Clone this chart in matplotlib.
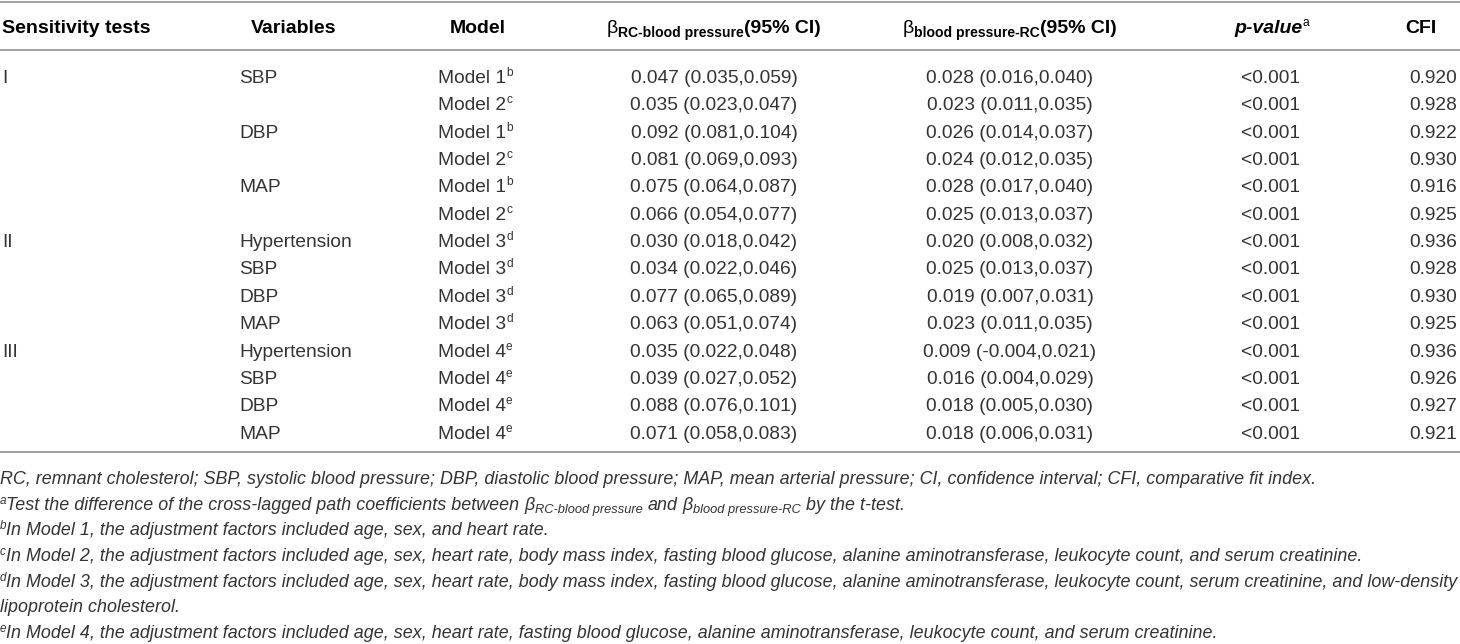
import matplotlib
matplotlib.use("Agg")
import matplotlib.pyplot as plt

# ---------------- data ----------------
tests = ["I", "", "", "", "", "", "II", "", "", "", "III", "", "", ""]
variables = ["SBP", "", "DBP", "", "MAP", "", "Hypertension", "SBP", "DBP", "MAP",
             "Hypertension", "SBP", "DBP", "MAP"]
models = ["Model 1", "Model 2", "Model 1", "Model 2", "Model 1", "Model 2",
          "Model 3", "Model 3", "Model 3", "Model 3",
          "Model 4", "Model 4", "Model 4", "Model 4"]
model_sup = ["b", "c", "b", "c", "b", "c", "d", "d", "d", "d", "e", "e", "e", "e"]
rc_est = [0.047, 0.035, 0.092, 0.081, 0.075, 0.066, 0.030, 0.034, 0.077, 0.063, 0.035, 0.039, 0.088, 0.071]
rc_lo = [0.035, 0.023, 0.081, 0.069, 0.064, 0.054, 0.018, 0.022, 0.065, 0.051, 0.022, 0.027, 0.076, 0.058]
rc_hi = [0.059, 0.047, 0.104, 0.093, 0.087, 0.077, 0.042, 0.046, 0.089, 0.074, 0.048, 0.052, 0.101, 0.083]
bp_est = [0.028, 0.023, 0.026, 0.024, 0.028, 0.025, 0.020, 0.025, 0.019, 0.023, 0.009, 0.016, 0.018, 0.018]
bp_lo = [0.016, 0.011, 0.014, 0.012, 0.017, 0.013, 0.008, 0.013, 0.007, 0.011, -0.004, 0.004, 0.005, 0.006]
bp_hi = [0.040, 0.035, 0.037, 0.035, 0.040, 0.037, 0.032, 0.037, 0.031, 0.035, 0.021, 0.029, 0.030, 0.031]
p_values = ["<0.001"] * 14
cfi = [0.920, 0.928, 0.922, 0.930, 0.916, 0.925, 0.936, 0.928, 0.930, 0.925, 0.936, 0.926, 0.927, 0.921]

footnotes = [
    ("", "RC, remnant cholesterol; SBP, systolic blood pressure; DBP, diastolic blood pressure; MAP, mean arterial pressure; CI, confidence interval; CFI, comparative fit index."),
    ("a", None),
    ("b", "In Model 1, the adjustment factors included age, sex, and heart rate."),
    ("c", "In Model 2, the adjustment factors included age, sex, heart rate, body mass index, fasting blood glucose, alanine aminotransferase, leukocyte count, and serum creatinine."),
    ("d", "In Model 3, the adjustment factors included age, sex, heart rate, body mass index, fasting blood glucose, alanine aminotransferase, leukocyte count, serum creatinine, and low-density"),
    ("", "lipoprotein cholesterol."),
    ("e", "In Model 4, the adjustment factors included age, sex, heart rate, fasting blood glucose, alanine aminotransferase, leukocyte count, and serum creatinine."),
]

# ---------------- style ----------------
FAMILY = ["Liberation Sans", "DejaVu Sans"]
BODY_FS = 13.8
HEAD_FS = 14.0
NOTE_FS = 12.9
TXT = "#333333"
LINE = "#a0a0a0"

W, H = 1460, 644
fig = plt.figure(figsize=(W / 100, H / 100), dpi=100)
ax = fig.add_axes([0, 0, 1, 1])
ax.set_xlim(0, W)
ax.set_ylim(H, 0)
ax.axis("off")
renderer = fig.canvas.get_renderer()


def measure(s, kw):
    t = ax.text(0, 0, s, **kw)
    w = t.get_window_extent(renderer=renderer).width
    t.remove()
    return w


def space_w(kw):
    return measure("x x", kw) - measure("xx", kw)


def draw_runs(x, y, parts, ha="left"):
    """parts: list of (text, kw, dy); y is the baseline."""
    objs = []
    cx = x
    for s, kw, dy in parts:
        lead = len(s) - len(s.lstrip(" "))
        trail = len(s) - len(s.rstrip(" "))
        sw = space_w(kw) if (lead or trail) else 0
        cx += lead * sw
        t = ax.text(cx, y + dy, s.strip(" "), ha="left", va="baseline", **kw)
        cx += t.get_window_extent(renderer=renderer).width + trail * sw
        objs.append(t)
    total = cx - x
    shift = {"left": 0, "center": -total / 2, "right": -total}[ha]
    if shift:
        for t in objs:
            t.set_x(t.get_position()[0] + shift)
    return total


head = dict(family=FAMILY, fontsize=HEAD_FS, fontweight="bold", color="black")
head_sub = dict(family=FAMILY, fontsize=HEAD_FS * 0.72, fontweight="bold", color="black")
head_beta = dict(family=FAMILY, fontsize=HEAD_FS, color="black")
head_sup = dict(family=FAMILY, fontsize=HEAD_FS * 0.62, color="black")
body = dict(family=FAMILY, fontsize=BODY_FS, color=TXT)
body_sup = dict(family=FAMILY, fontsize=BODY_FS * 0.62, color=TXT)
note = dict(family=FAMILY, fontsize=NOTE_FS, style="italic", color=TXT)
note_sup = dict(family=FAMILY, fontsize=NOTE_FS * 0.65, style="italic", color=TXT)
note_sub = dict(family=FAMILY, fontsize=NOTE_FS * 0.72, style="italic", color=TXT)

# column anchors (pixels)
X_TEST = 2
X_VAR = 239
X_VAR_HEAD = 251
X_MODEL = 438
X_MODEL_HEAD = 478
X_B1 = 714
X_B2 = 1010
X_P = 1270
X_P_HEAD = 1272
X_CFI = 1457
X_CFI_HEAD = 1421

# ---------------- rules ----------------
for yl in (1.5, 50, 452):
    ax.plot([0, W], [yl, yl], color=LINE, lw=1.4, solid_capstyle="butt")

# ---------------- header ----------------
HB = 33
draw_runs(X_TEST, HB, [("Sensitivity tests", head, 0)])
draw_runs(X_VAR_HEAD, HB, [("Variables", head, 0)])
draw_runs(X_MODEL_HEAD, HB, [("Model", head, 0)], ha="center")
draw_runs(X_B1, HB, [("\u03b2", head_beta, 0), ("RC-blood pressure", head_sub, 4),
                     ("(95% CI)", head, 0)], ha="center")
draw_runs(X_B2, HB, [("\u03b2", head_beta, 0), ("blood pressure-RC", head_sub, 4),
                     ("(95% CI)", head, 0)], ha="center")
draw_runs(X_P_HEAD, HB, [("p-value", dict(head, style="italic"), 0),
                         ("a", head_sup, -7)], ha="center")
draw_runs(X_CFI_HEAD, HB, [("CFI", head, 0)], ha="center")

# ---------------- body ----------------
ROW0 = 83
DROW = 27.35
for i in range(len(models)):
    yb = ROW0 + i * DROW
    if tests[i]:
        draw_runs(X_TEST, yb, [(tests[i], body, 0)])
    if variables[i]:
        draw_runs(X_VAR, yb, [(variables[i], body, 0)])
    draw_runs(X_MODEL, yb, [(models[i], body, 0), (model_sup[i], body_sup, -7)])
    draw_runs(X_B1, yb, [(f"{rc_est[i]:.3f} ({rc_lo[i]:.3f},{rc_hi[i]:.3f})", body, 0)], ha="center")
    draw_runs(X_B2, yb, [(f"{bp_est[i]:.3f} ({bp_lo[i]:.3f},{bp_hi[i]:.3f})", body, 0)], ha="center")
    draw_runs(X_P, yb, [(p_values[i], body, 0)], ha="center")
    draw_runs(X_CFI, yb, [(f"{cfi[i]:.3f}", body, 0)], ha="right")

# ---------------- footnotes ----------------
NOTE0 = 484
DNOTE = 25.7
for k, (sup, txt) in enumerate(footnotes):
    yb = NOTE0 + k * DNOTE
    parts = []
    if sup:
        parts.append((sup, note_sup, -6))
    if txt is None:
        parts += [("Test the difference of the cross-lagged path coefficients between ", note, 0),
                  ("\u03b2", note, 0), ("RC-blood pressure", note_sub, 3.5),
                  (" and ", note, 0),
                  ("\u03b2", note, 0), ("blood pressure-RC", note_sub, 3.5),
                  (" by the t-test.", note, 0)]
    else:
        parts.append((txt, note, 0))
    draw_runs(0, yb, parts)

fig.savefig("out.png", dpi=100)
